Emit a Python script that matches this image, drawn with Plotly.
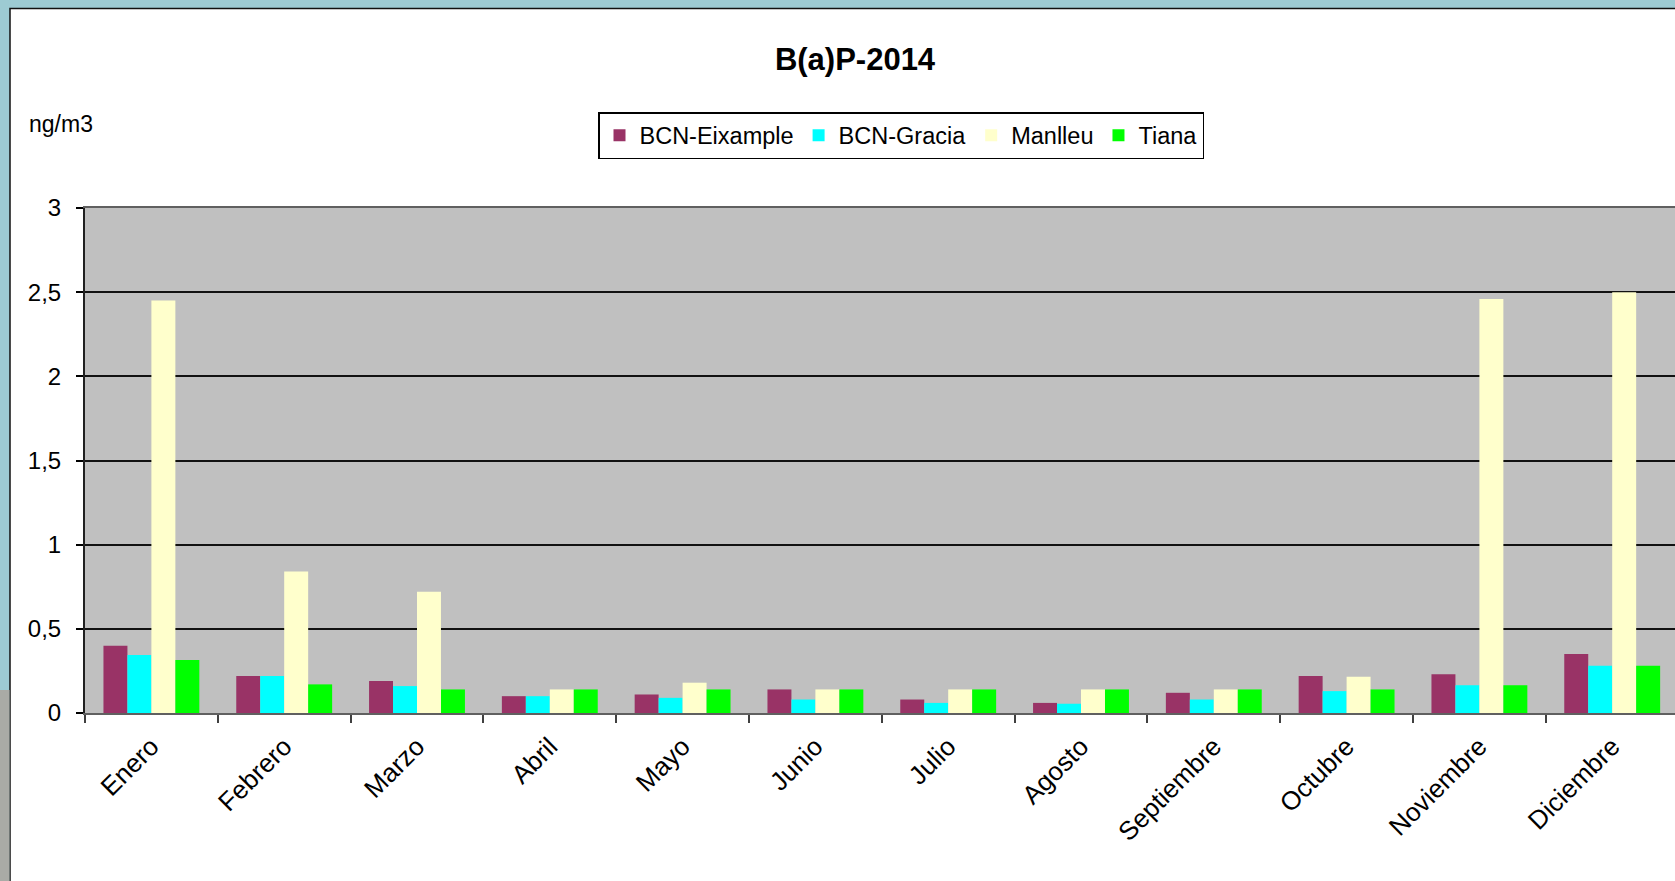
import plotly.graph_objects as go

months = ["Enero", "Febrero", "Marzo", "Abril", "Mayo", "Junio", "Julio",
          "Agosto", "Septiembre", "Octubre", "Noviembre", "Diciembre"]
eixample = [0.40, 0.22, 0.19, 0.10, 0.11, 0.14, 0.08, 0.06, 0.12, 0.22, 0.23, 0.35]
gracia = [0.345, 0.22, 0.16, 0.10, 0.09, 0.08, 0.06, 0.055, 0.08, 0.13, 0.165, 0.28]
manlleu = [2.45, 0.84, 0.72, 0.14, 0.18, 0.14, 0.14, 0.14, 0.14, 0.215, 2.46, 2.50]
tiana = [0.315, 0.17, 0.14, 0.14, 0.14, 0.14, 0.14, 0.14, 0.14, 0.14, 0.165, 0.28]
y_ticks = [0, 0.5, 1, 1.5, 2, 2.5, 3]

series = [
    ("BCN-Eixample", eixample, "#993366"),
    ("BCN-Gracia", gracia, "#00FFFF"),
    ("Manlleu", manlleu, "#FFFFCC"),
    ("Tiana", tiana, "#00FF00"),
]

W, H = 1675, 881
L, T, B = 85, 208, 168
PW = W - L
PH = H - T - B


def px_x(p):
    return (p - L) / PW


def px_y(p):
    return (H - B - p) / PH


FONT = "Liberation Sans, Arial, sans-serif"

fig = go.Figure()
for name, vals, col in series:
    fig.add_trace(go.Bar(
        x=months, y=vals, name=name,
        marker=dict(color=col, line=dict(width=0)),
    ))

shapes = [
    dict(type="rect", xref="paper", yref="paper", layer="below",
         x0=px_x(10), x1=px_x(W + 5), y0=px_y(H + 5), y1=px_y(8.5),
         fillcolor="white", line=dict(color="#111111", width=1.5)),
    dict(type="rect", xref="paper", yref="paper", layer="below",
         x0=px_x(0), x1=px_x(9.5), y0=px_y(H + 5), y1=px_y(690),
         fillcolor="#A9ABA6", line=dict(width=0)),
    dict(type="rect", xref="paper", yref="paper", layer="below",
         x0=0, x1=1, y0=0, y1=1, fillcolor="#C0C0C0", line=dict(width=0)),
]

fig.update_layout(
    width=W, height=H,
    margin=dict(l=L, r=0, t=T, b=B, pad=0),
    paper_bgcolor="#9DCBD3",
    plot_bgcolor="#C0C0C0",
    separators=",.",
    font=dict(family=FONT, size=24, color="black"),
    barmode="group",
    bargap=0.278,
    bargroupgap=0,
    showlegend=True,
    title=dict(text="<b>B(a)P-2014</b>", x=855 / W, xanchor="center",
               y=1 - 59 / H, yanchor="middle",
               font=dict(family=FONT, size=31, color="black")),
    legend=dict(orientation="h", x=px_x(901), xanchor="center",
                y=px_y(112), yanchor="top",
                bgcolor="white", bordercolor="black", borderwidth=1.5,
                font=dict(family=FONT, size=23.5, color="black"),
                traceorder="normal"),
    shapes=shapes,
    annotations=[dict(text="ng/m3", xref="paper", yref="paper",
                      x=px_x(27), xanchor="left", y=px_y(124), yanchor="middle",
                      showarrow=False, font=dict(family=FONT, size=23, color="black"))],
    xaxis=dict(
        type="category", range=[-0.5, -0.5 + PW / 132.8],
        tickson="boundaries", ticks="outside", ticklen=8, tickwidth=1.5,
        tickcolor="#404040", tickangle=-45,
        showline=True, linecolor="#606060", linewidth=2, mirror=True,
        showgrid=False, ticklabelstandoff=6,
        tickfont=dict(family=FONT, size=26, color="black"),
    ),
    yaxis=dict(
        range=[0, 3], tickvals=y_ticks, ticks="outside", ticklen=7, tickwidth=1.5,
        tickcolor="black", showline=True, linecolor="#202020", linewidth=2,
        showgrid=True, gridcolor="#111111", gridwidth=1.5, zeroline=False,
        ticklabelstandoff=10,
        tickfont=dict(family=FONT, size=24, color="black"),
    ),
)

fig.write_html("out.html")
